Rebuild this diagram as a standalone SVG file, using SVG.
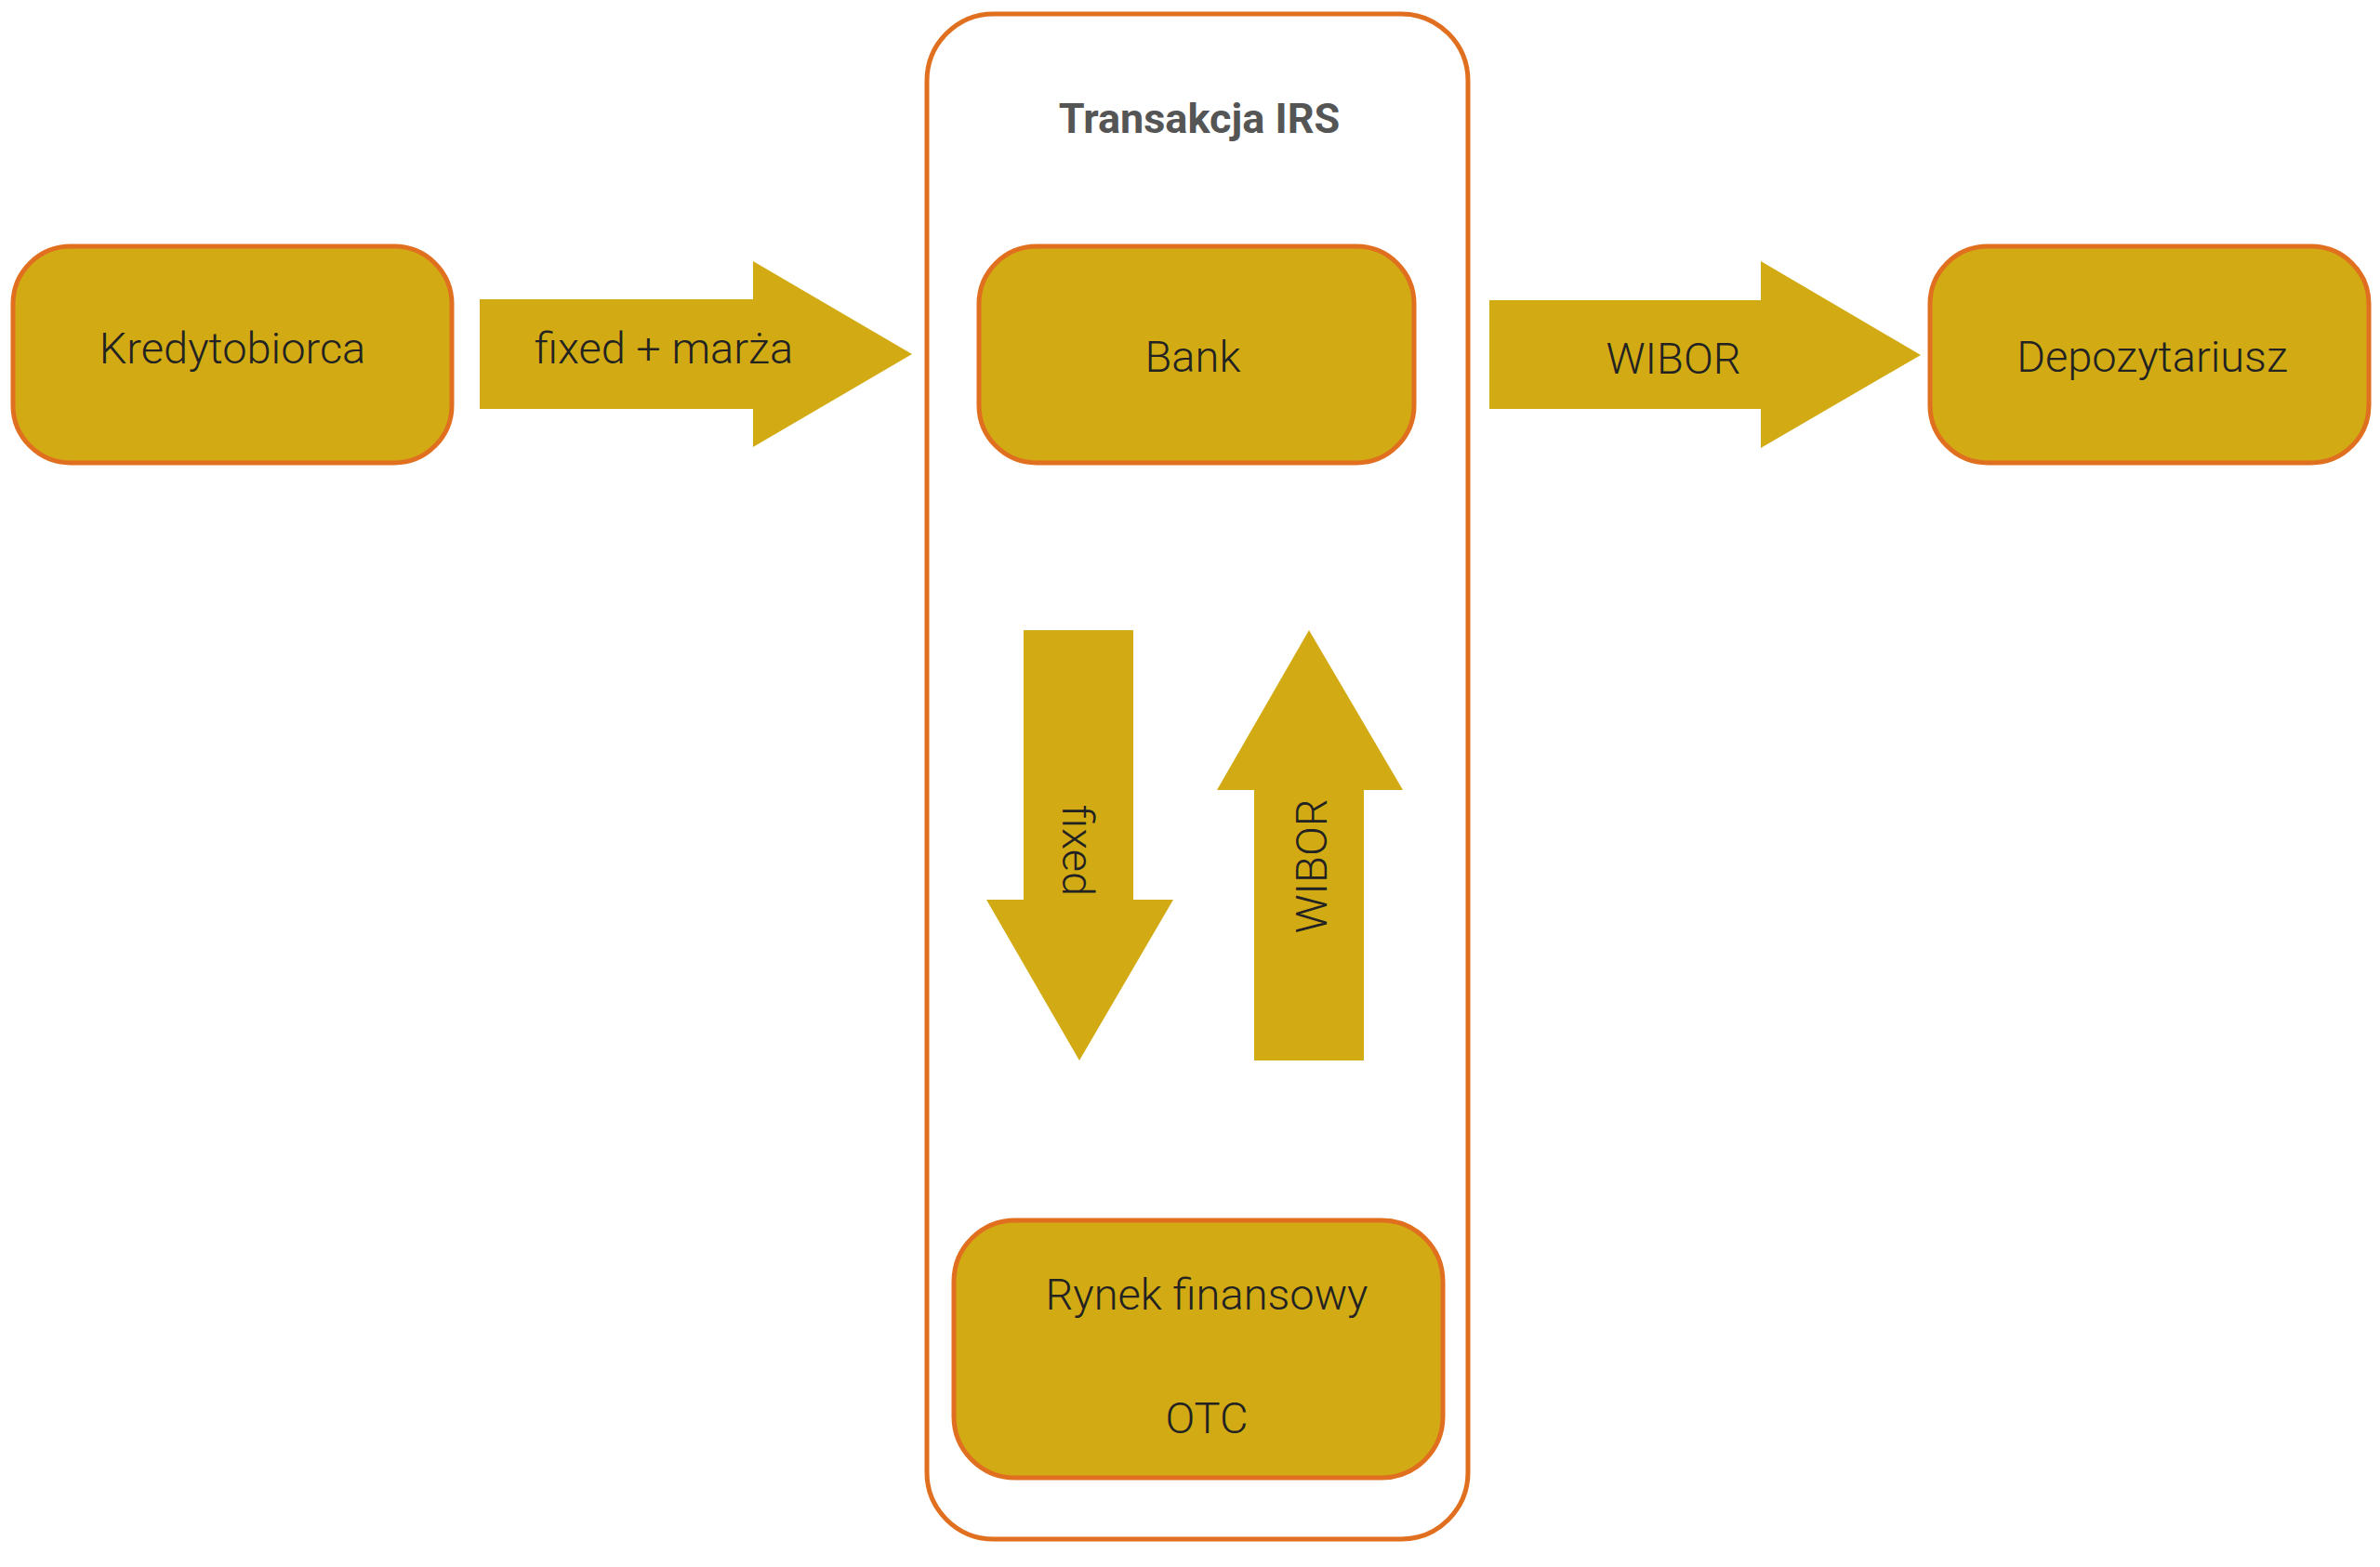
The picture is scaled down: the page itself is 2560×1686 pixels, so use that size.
<svg xmlns="http://www.w3.org/2000/svg" width="2560" height="1686" viewBox="0 0 2560 1686">
<style>
.node{fill:#D2AB14;stroke:#E06F1F;stroke-width:5}
.arr{fill:#D2AB14}
.t{font-family:Roboto,"Liberation Sans",sans-serif;font-weight:300;font-size:47px;fill:#222;text-anchor:middle}
</style>
<rect width="2560" height="1686" fill="#fff"/>
<g id="container">
<rect x="997" y="15" width="582" height="1641" rx="72" fill="none" stroke="#E06F1F" stroke-width="5"/>
<text x="1290" y="143" font-family="Roboto,'Liberation Sans',sans-serif" font-weight="bold" font-size="45" fill="#555" text-anchor="middle">Transakcja IRS</text>
</g>
<g id="kredytobiorca"><rect class="node" x="14" y="265" width="472" height="233" rx="62"/><text class="t" x="250" y="391">Kredytobiorca</text></g>
<g id="bank"><rect class="node" x="1053" y="265" width="468" height="233" rx="62"/><text class="t" x="1283" y="400">Bank</text></g>
<g id="depozytariusz"><rect class="node" x="2076" y="265" width="472" height="233" rx="62"/><text class="t" x="2315" y="400">Depozytariusz</text></g>
<g id="rynek"><rect class="node" x="1026" y="1313" width="526" height="277" rx="66"/><text class="t" x="1298" y="1409">Rynek finansowy</text><text class="t" x="1298" y="1542">OTC</text></g>
<g id="connectors">
<polygon class="arr" points="516,322 810,322 810,281 981,381 810,481 810,440 516,440"/>
<text class="t" x="714" y="391">fixed + marża</text>
<polygon class="arr" points="1602,323 1894,323 1894,281 2066,382 1894,482 1894,440 1602,440"/>
<text class="t" x="1800" y="402">WIBOR</text>
<polygon class="arr" points="1101,678 1219,678 1219,968 1262,968 1161,1141 1061,968 1101,968"/>
<text class="t" transform="translate(1143,915) rotate(90)">fixed</text>
<polygon class="arr" points="1408,678 1509,850 1467,850 1467,1141 1349,1141 1349,850 1309,850"/>
<text class="t" transform="translate(1427,932) rotate(-90)">WIBOR</text>
</g>
</svg>
